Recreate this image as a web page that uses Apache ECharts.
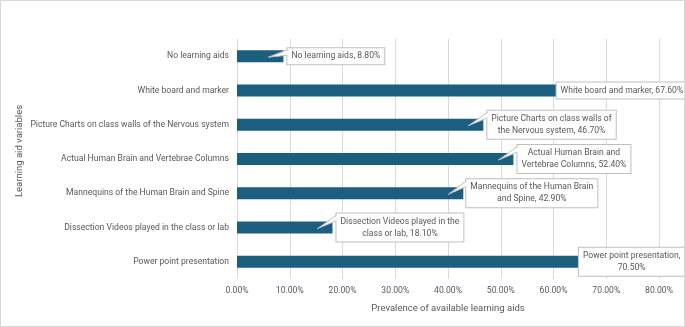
<!DOCTYPE html>
<html>
<head>
<meta charset="utf-8">
<script src="https://cdn.jsdelivr.net/npm/echarts@6/dist/echarts.min.js"></script>
<style>
html,body{margin:0;padding:0;background:#fff;}
#main{width:685px;height:327px;box-sizing:border-box;border:1px solid #d9d9d9;}
</style>
</head>
<body>
<div id="main"></div>
<script>
var aids = ["No learning aids", "White board and marker", "Picture Charts on class walls of the Nervous system",
	"Actual Human Brain and Vertebrae Columns", "Mannequins of the Human Brain and Spine",
	"Dissection Videos played in the class or lab", "Power point presentation"]
var prevalence = [8.8, 67.6, 46.7, 52.4, 42.9, 18.1, 70.5]
// callout text as it breaks in the picture
var calloutText = ["No learning aids, 8.80%", "White board and marker, 67.60%",
	"Picture Charts on class walls of\nthe Nervous system, 46.70%",
	"Actual Human Brain and\nVertebrae Columns, 52.40%",
	"Mannequins of the Human Brain\nand Spine, 42.90%",
	"Dissection Videos played in the\nclass or lab, 18.10%",
	"Power point presentation,\n70.50%"]
var calloutShift = [0, -41, 0, 0, -1, 0, -34]

var font = "Roboto"
var grey = "#595959"
var lineH = 12, padV = 2, gap = 4
var mychart = echarts.init(document.getElementById('main'))

// callout pointer: thin wedge from inside the bar to the box's left edge
function wedge(params, api) {
	var i = params.dataIndex
	var shift = calloutShift[i]
	if (shift < -5) return null // box already covers the bar end
	var end = api.coord([api.value(0), i])
	var lines = calloutText[i].split('\n').length
	var h = lines * lineH + padV * 2
	var top = end[1] - h / 2
	var bx = end[0] + gap + shift
	var tip = [end[0] - 15, end[1] + 1]
	return {type: 'group', children: [
		{type: 'polygon', shape: {points: [tip, [bx + 1.5, top + 1.5], [bx + 1.5, top + 7]]}, style: {fill: '#fff'}},
		{type: 'polyline', shape: {points: [[bx, top + 1.5], tip, [bx, top + 7]]}, style: {stroke: '#bfbfbf', lineWidth: 1, fill: null}}
	]}
}

var option = {
	grid: {left: 236, right: 25, top: 38, bottom: 47, outerBoundsMode: 'none', containLabel: false},
	// y axis title, placed by hand
	graphic: [{
		type: 'text', x: 19, y: 150, rotation: Math.PI / 2,
		style: {text: 'Learning aid variables', fill: grey, fontSize: 9.5, fontFamily: font,
			align: 'center', verticalAlign: 'middle'}
	}],
	xAxis: {
		type: 'value', min: 0, max: 80, interval: 10,
		name: 'Prevalence of available learning aids',
		nameLocation: 'middle', nameGap: 25, nameMoveOverlap: false,
		nameTextStyle: {color: grey, fontSize: 9.5, fontFamily: font},
		axisLine: {show: false},
		axisTick: {show: false},
		axisLabel: {color: grey, fontSize: 8.6, fontFamily: font, margin: 7,
			formatter: function (v) { return v.toFixed(2) + '%' }},
		splitLine: {lineStyle: {color: '#d9d9d9'}}
	},
	yAxis: {
		type: 'category', inverse: true, data: aids,
		axisLine: {show: false},
		axisTick: {show: false},
		axisLabel: {color: grey, fontSize: 8.6, fontFamily: font, margin: 8}
	},
	series: [{
		type: 'bar',
		data: prevalence,
		barWidth: 12,
		itemStyle: {color: '#1b5e7e'},
		label: {
			show: true, position: 'right', distance: gap,
			formatter: function (p) {
				return calloutText[p.dataIndex].split('\n').map(function (s) { return '{c|' + s + '}' }).join('\n')
			},
			backgroundColor: '#fff', borderColor: '#bfbfbf', borderWidth: 1,
			padding: [padV, 4],
			rich: {c: {align: 'center', color: grey, fontSize: 8.6, fontFamily: font, lineHeight: lineH}}
		},
		labelLayout: function (p) {
			return {dx: calloutShift[p.dataIndex], dy: 0}
		}
	}, {
		type: 'custom',
		silent: true,
		z: 5,
		data: prevalence.map(function (v, i) { return [v, i] }),
		encode: {x: 0, y: 1},
		renderItem: wedge
	}]
}
mychart.setOption(option)
</script>
</body>
</html>
